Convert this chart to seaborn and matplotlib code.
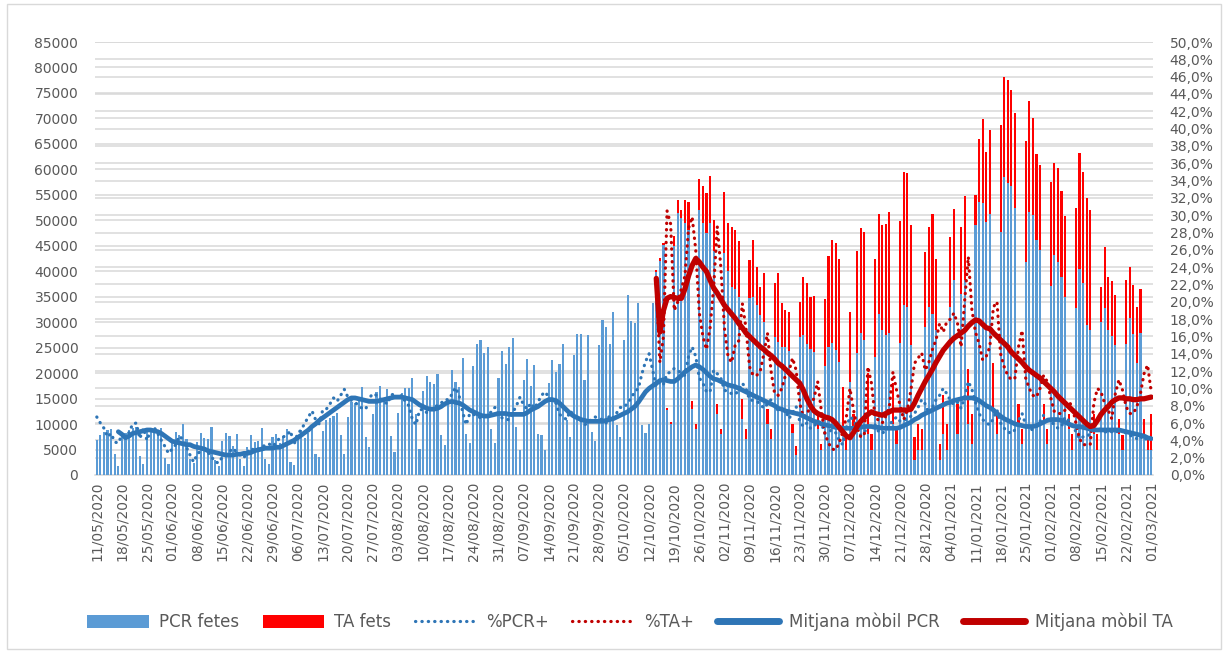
import numpy as np
import pandas as pd
import seaborn as sns
import matplotlib.pyplot as plt
from matplotlib.patches import Patch, Rectangle
from matplotlib.lines import Line2D
from matplotlib.ticker import FuncFormatter, MultipleLocator

nan = np.nan

# one category per day, 11/05/2020 .. 01/03/2021
dates = pd.date_range("2020-05-11", "2021-03-01", freq="D")

# PCR fetes (thousands), one row per week (Mon..Sun)
pcr_k = [
    6.9, 7.9, 8.5, 8.8, 9.0, 4.1, 1.8,
    8.2, 8.2, 8.8, 9.2, 9.5, 3.7, 2.1,
    9.0, 8.8, 8.5, 8.2, 9.3, 3.4, 2.2,
    7.0, 8.4, 7.8, 10.0, 7.0, 3.2, 2.3,
    6.5, 8.3, 7.2, 7.0, 9.5, 2.9, 1.8,
    6.7, 8.3, 7.6, 5.6, 8.0, 3.1, 1.8,
    5.5, 7.8, 6.5, 6.7, 9.2, 3.1, 2.1,
    7.5, 8.0, 6.2, 7.7, 9.0, 2.6, 2.0,
    7.5, 8.8, 7.2, 8.2, 9.0, 4.2, 3.5,
    8.6, 10.8, 11.1, 11.6, 12.1, 7.8, 4.1,
    11.3, 14.4, 14.2, 14.6, 17.3, 7.5, 5.4,
    11.9, 16.2, 17.5, 14.8, 16.8, 7.7, 4.5,
    12.1, 16.0, 17.0, 17.0, 19.0, 12.0, 5.2,
    16.4, 19.4, 18.3, 17.8, 19.8, 7.8, 5.8,
    14.8, 20.6, 18.3, 17.3, 23.0, 8.0, 6.2,
    21.4, 25.8, 26.5, 24.0, 25.2, 9.0, 6.2,
    19.1, 24.4, 21.8, 25.2, 26.8, 9.5, 5.0,
    18.6, 22.7, 17.5, 21.6, 8.0, 7.8, 4.9,
    18.0, 22.6, 20.3, 21.8, 25.8, 10.8, 7.4,
    23.5, 27.7, 27.6, 18.6, 27.5, 8.5, 6.7,
    25.5, 30.4, 29.1, 25.8, 32.0, 9.8, 7.4,
    26.5, 35.3, 30.3, 29.9, 33.8, 9.8, 8.2,
    10.0, 33.7, 39.9, 42.0, 45.1, 12.8, 10.0,
    45.0, 51.4, 50.5, 49.5, 48.0, 13.0, 9.0,
    52.1, 49.4, 47.5, 49.5, 44.0, 12.0, 8.0,
    43.5, 40.0, 36.9, 36.5, 35.0, 11.0, 7.0,
    34.7, 35.0, 33.4, 31.4, 30.1, 10.0, 7.0,
    27.1, 26.2, 25.2, 25.2, 24.4, 8.2, 3.9,
    27.0, 27.5, 25.8, 24.7, 24.2, 9.0, 5.0,
    21.3, 25.2, 26.0, 24.5, 22.2, 9.0, 5.0,
    18.3, 9.0, 24.0, 27.8, 26.5, 8.0, 5.0,
    23.2, 31.7, 28.4, 27.5, 27.9, 10.0, 6.0,
    26.0, 33.4, 33.0, 25.5, 3.0, 5.0, 5.0,
    29.1, 33.0, 31.7, 28.4, 3.0, 8.0, 5.0,
    33.0, 38.3, 8.0, 35.6, 38.3, 10.0, 6.0,
    49.0, 53.6, 53.4, 49.7, 51.2, 13.0, 8.0,
    47.7, 58.5, 57.4, 56.7, 52.5, 10.0, 6.0,
    41.9, 51.7, 51.0, 46.1, 44.1, 10.0, 6.0,
    37.1, 43.2, 41.9, 38.9, 34.9, 9.0, 5.0,
    32.7, 40.4, 37.7, 29.4, 28.4, 8.0, 5.0,
    30.0, 32.7, 28.4, 27.3, 25.5, 8.0, 5.0,
    25.7, 30.9, 27.7, 22.0, 27.9, 8.0, 5.0,
    5.0,
]

# TA fets (thousands); antigen tests only from mid October
ta_k = [0.0] * 154 + [
    0.0, 0.0, 0.3, 0.6, 0.5, 0.4, 0.5,
    2.0, 2.6, 1.5, 4.5, 5.5, 1.5, 1.0,
    6.1, 7.3, 7.9, 9.2, 6.0, 2.0, 1.0,
    12.1, 9.5, 11.8, 11.6, 11.0, 4.0, 2.0,
    7.5, 11.1, 7.5, 5.5, 9.5, 3.0, 2.0,
    10.5, 13.5, 8.6, 7.2, 7.6, 1.9, 1.7,
    7.0, 11.4, 11.8, 10.3, 11.0, 3.1, 1.0,
    13.2, 17.8, 20.1, 21.0, 20.3, 8.3, 3.0,
    13.7, 3.0, 19.9, 20.6, 21.2, 12.0, 3.0,
    19.3, 19.6, 20.6, 21.7, 23.8, 8.0, 3.0,
    23.9, 26.1, 26.2, 23.5, 4.5, 5.0, 4.0,
    14.7, 15.6, 19.6, 14.1, 3.0, 7.7, 5.0,
    13.8, 14.0, 6.0, 13.1, 16.4, 10.9, 6.0,
    6.0, 12.4, 16.4, 13.7, 16.5, 9.0, 4.0,
    21.0, 19.7, 20.1, 18.8, 18.6, 4.0, 3.0,
    23.6, 21.7, 19.0, 16.9, 16.7, 4.0, 3.0,
    20.5, 18.1, 18.3, 16.8, 15.9, 3.0, 3.0,
    19.8, 22.8, 21.8, 25.0, 23.6, 4.0, 3.0,
    7.0, 12.0, 10.4, 10.8, 9.8, 3.0, 2.8,
    12.6, 10.0, 9.5, 11.0, 8.7, 3.0, 2.0,
    7.0,
]

# %PCR+ (daily positivity, %)
pct_pcr = [
    6.7, 6.0, 5.4, 4.4, 4.8, 3.8, 3.7,
    4.6, 4.5, 4.9, 5.9, 6.0, 4.2, 5.4,
    4.0, 5.2, 5.5, 4.8, 4.0, 3.3, 2.5,
    3.0, 3.5, 4.5, 4.1, 3.2, 2.3, 1.5,
    2.4, 2.8, 3.0, 2.6, 2.1, 1.5, 1.4,
    2.1, 2.4, 2.7, 3.1, 2.6, 2.3, 2.0,
    2.6, 3.1, 2.8, 3.0, 3.3, 3.4, 3.6,
    3.3, 3.7, 4.3, 4.4, 4.6, 5.1, 3.5,
    4.8, 5.2, 6.0, 6.7, 7.4, 6.4, 5.9,
    7.5, 7.6, 8.2, 8.9, 8.5, 9.2, 9.9,
    9.0, 8.6, 8.4, 8.0, 7.7, 7.6, 8.9,
    9.4, 9.2, 8.8, 8.5, 8.2, 9.2, 9.4,
    8.8, 9.2, 8.5, 8.0, 6.4, 5.8, 7.5,
    7.6, 7.2, 7.4, 7.9, 8.0, 8.3, 8.7,
    8.7, 9.3, 10.1, 9.2, 7.3, 5.8, 7.1,
    7.0, 6.8, 6.6, 6.7, 6.9, 7.3, 7.8,
    7.0, 6.6, 6.4, 6.4, 7.2, 8.0, 9.0,
    8.1, 7.6, 8.3, 7.7, 8.4, 9.2, 9.6,
    9.0, 8.6, 8.3, 7.0, 6.7, 6.4, 7.4,
    6.9, 6.5, 6.3, 5.8, 6.0, 6.5, 6.7,
    6.5, 6.4, 6.0, 6.9, 6.6, 7.2, 7.8,
    7.8, 8.3, 8.9, 9.6, 10.0, 11.7, 13.1,
    14.0, 12.1, 10.2, 10.8, 10.5, 11.7, 11.9,
    12.3, 12.1, 11.7, 11.5, 13.7, 14.8, 13.7,
    11.2, 10.6, 9.6, 9.6, 12.1, 11.7, 11.2,
    9.8, 9.6, 9.4, 9.3, 9.8, 10.6, 10.0,
    8.7, 8.6, 8.5, 8.2, 7.7, 8.2, 8.7,
    7.8, 7.5, 7.5, 7.5, 6.5, 7.2, 7.9,
    6.2, 5.6, 6.0, 5.4, 5.6, 6.2, 6.0,
    4.8, 5.0, 5.2, 4.9, 4.0, 3.5, 5.5,
    6.7, 6.4, 5.5, 4.6, 5.0, 5.4, 5.8,
    5.8, 5.0, 4.8, 5.2, 5.8, 6.3, 6.7,
    6.2, 6.4, 6.4, 6.8, 7.1, 7.8, 8.7,
    8.2, 7.1, 7.8, 8.7, 9.2, 10.0, 9.4,
    8.6, 8.1, 8.4, 7.7, 9.0, 10.8, 9.9,
    8.4, 7.1, 6.4, 6.0, 5.8, 6.5, 7.5,
    6.0, 5.4, 5.0, 4.8, 5.2, 6.3, 7.1,
    5.8, 5.4, 5.2, 5.6, 6.2, 6.9, 6.5,
    6.2, 5.8, 5.4, 5.6, 6.7, 6.3, 5.8,
    5.0, 4.2, 4.4, 4.4, 4.8, 5.8, 5.4,
    5.2, 5.0, 4.9, 5.0, 5.2, 4.8, 5.3,
    4.8, 4.6, 4.4, 4.2, 4.5, 4.0, 4.3,
    4.2,
]

# %TA+ (daily positivity of antigen tests, %)
pct_ta = [nan] * 154 + [
    nan, nan, 22.0, 13.0, 16.0, 30.5, 29.0,
    19.0, 20.0, 21.5, 23.0, 28.5, 29.8, 26.0,
    18.7, 16.0, 14.5, 17.0, 21.7, 28.7, 24.0,
    17.0, 13.7, 13.0, 15.0, 15.5, 19.8, 17.0,
    12.5, 11.5, 11.5, 12.0, 14.0, 16.4, 12.0,
    9.4, 9.2, 10.0, 11.5, 12.0, 13.5, 12.1,
    8.3, 6.7, 7.0, 8.0, 8.9, 10.8, 7.5,
    4.8, 3.7, 3.0, 2.9, 3.7, 5.0, 6.7,
    10.0, 7.5, 5.5, 4.4, 4.6, 12.5, 10.6,
    6.7, 6.3, 6.0, 6.8, 7.9, 11.9, 9.8,
    8.0, 6.4, 7.5, 9.8, 12.9, 13.5, 14.1,
    12.1, 13.0, 14.5, 15.6, 17.5, 16.5, 17.7,
    18.0, 18.7, 17.5, 14.8, 20.2, 25.2, 19.1,
    16.5, 15.2, 13.3, 13.7, 14.8, 19.4, 20.0,
    14.0, 12.5, 11.5, 11.0, 11.2, 14.8, 16.7,
    11.2, 10.0, 9.2, 9.0, 10.0, 11.5, 10.8,
    8.9, 7.3, 7.1, 7.1, 7.5, 8.5, 7.9,
    6.0, 4.2, 3.5, 3.5, 3.5, 8.3, 10.0,
    9.6, 8.3, 7.5, 6.5, 9.4, 11.0, 9.8,
    7.9, 7.1, 7.1, 7.9, 9.4, 11.7, 12.7,
    9.6,
]

# Mitjana mòbil PCR (%)
ma_pcr = [
    nan, nan, nan, nan, nan, nan, 5.0,
    4.7, 4.3, 4.5, 4.8, 4.9, 5.0, 5.1,
    5.2, 5.2, 5.1, 5.0, 4.8, 4.5, 4.2,
    3.9, 3.8, 3.7, 3.6, 3.5, 3.5, 3.3,
    3.2, 3.1, 3.0, 2.8, 2.7, 2.6, 2.5,
    2.4, 2.3, 2.3, 2.3, 2.4, 2.4, 2.5,
    2.5, 2.6, 2.8, 2.9, 3.0, 3.1, 3.1,
    3.1, 3.2, 3.2, 3.4, 3.6, 3.8, 4.0,
    4.3, 4.6, 4.9, 5.2, 5.6, 5.9, 6.3,
    6.6, 6.9, 7.2, 7.5, 7.8, 8.1, 8.4,
    8.7, 8.9, 8.9, 8.8, 8.7, 8.6, 8.5,
    8.5, 8.5, 8.6, 8.7, 8.8, 8.9, 9.0,
    9.0, 9.0, 8.9, 8.8, 8.7, 8.4, 8.1,
    7.9, 7.7, 7.6, 7.6, 7.7, 7.9, 8.2,
    8.4, 8.5, 8.4, 8.3, 8.1, 7.8, 7.5,
    7.3, 7.1, 6.9, 6.8, 6.8, 6.9, 7.0,
    7.1, 7.1, 7.1, 7.0, 7.0, 7.0, 7.0,
    7.0, 7.2, 7.5, 7.7, 7.9, 8.2, 8.5,
    8.7, 8.7, 8.6, 8.3, 7.9, 7.5, 7.1,
    6.8, 6.6, 6.4, 6.3, 6.2, 6.2, 6.2,
    6.2, 6.2, 6.3, 6.4, 6.5, 6.7, 6.9,
    7.1, 7.3, 7.6, 7.9, 8.4, 9.0, 9.6,
    10.0, 10.3, 10.6, 10.9, 11.0, 10.9, 10.8,
    10.8, 11.1, 11.5, 11.9, 12.2, 12.5, 12.7,
    12.5, 12.2, 11.8, 11.4, 11.1, 11.0, 10.8,
    10.6, 10.4, 10.3, 10.2, 10.0, 9.8, 9.6,
    9.4, 9.2, 9.0, 8.8, 8.6, 8.4, 8.2,
    8.0, 7.7, 7.6, 7.4, 7.3, 7.2, 7.1,
    7.0, 6.8, 6.6, 6.4, 6.2, 6.1, 5.9,
    5.8, 5.7, 5.6, 5.5, 5.5, 5.4, 5.4,
    5.4, 5.4, 5.5, 5.5, 5.6, 5.6, 5.6,
    5.5, 5.5, 5.4, 5.4, 5.4, 5.4, 5.4,
    5.5, 5.7, 5.9, 6.1, 6.4, 6.6, 6.9,
    7.1, 7.3, 7.5, 7.7, 7.9, 8.1, 8.3,
    8.4, 8.6, 8.7, 8.8, 8.9, 8.9, 8.9,
    8.8, 8.6, 8.3, 8.0, 7.8, 7.5, 7.1,
    6.8, 6.5, 6.3, 6.1, 5.9, 5.8, 5.7,
    5.6, 5.6, 5.6, 5.7, 5.9, 6.1, 6.3,
    6.4, 6.4, 6.4, 6.3, 6.1, 5.9, 5.7,
    5.6, 5.6, 5.5, 5.4, 5.3, 5.2, 5.2,
    5.2, 5.2, 5.2, 5.2, 5.2, 5.2, 5.1,
    5.0, 4.9, 4.8, 4.7, 4.6, 4.5, 4.3,
    4.2,
]

# Mitjana mòbil TA (%)
ma_ta = [nan] * 154 + [
    nan, nan, 22.7, 16.5, 19.0, 20.4, 20.6,
    20.5, 20.4, 20.4, 21.5, 23.0, 24.2, 25.0,
    24.6, 24.0, 23.5, 22.5, 21.6, 21.0, 20.3,
    19.6, 19.1, 18.6, 18.1, 17.5, 17.0, 16.4,
    16.0, 15.6, 15.2, 14.8, 14.5, 14.1, 13.8,
    13.4, 12.9, 12.6, 12.2, 11.8, 11.4, 11.0,
    10.6, 9.8, 8.8, 8.0, 7.4, 7.1, 6.9,
    6.7, 6.6, 6.4, 6.0, 5.5, 5.0, 4.5,
    4.3, 4.9, 5.6, 6.2, 6.6, 7.0, 7.3,
    7.1, 7.0, 6.9, 7.1, 7.3, 7.5, 7.5,
    7.5, 7.5, 7.5, 7.6, 8.3, 9.2, 10.0,
    10.8, 11.5, 12.2, 13.0, 13.7, 14.4, 14.9,
    15.4, 15.8, 16.1, 16.4, 16.7, 17.2, 17.6,
    17.9, 17.8, 17.4, 17.0, 16.9, 16.4, 16.0,
    15.6, 15.2, 14.8, 14.2, 13.8, 13.4, 13.0,
    12.5, 12.1, 11.8, 11.5, 11.2, 10.8, 10.4,
    10.0, 9.6, 9.1, 8.7, 8.3, 7.9, 7.5,
    7.1, 6.7, 6.3, 5.9, 5.6, 5.7, 6.3,
    7.0, 7.5, 7.9, 8.4, 8.7, 8.9, 8.9,
    8.8, 8.8, 8.7, 8.7, 8.8, 8.8, 8.9,
    9.0,
]

for arr in (pcr_k, ta_k, pct_pcr, pct_ta, ma_pcr, ma_ta):
    assert len(arr) == len(dates), len(arr)

df = pd.DataFrame({
    "dia": np.arange(len(dates)),
    "pcr": np.array(pcr_k) * 1000,
    "ta": np.array(ta_k) * 1000,
    "pct_pcr": pct_pcr,
    "pct_ta": pct_ta,
    "ma_pcr": ma_pcr,
    "ma_ta": ma_ta,
})
df["total"] = df["pcr"] + df["ta"]

C_PCR = "#5B9BD5"
C_TA = "#FF0000"
C_BLUE = "#2E75B6"
C_RED = "#C00000"
GRID = "#D9D9D9"
TXT = "#595959"
DOTS = (0, (0.1, 1.9))

sns.set_theme(style="white")
plt.rcParams["font.family"] = ["DejaVu Sans"]

fig = plt.figure(figsize=(12.28, 6.53), dpi=100)
ax = fig.add_axes([95 / 1228, 178 / 653, 1058 / 1228, 433 / 653])

# gridlines of both value axes, behind the bars
for v in range(0, 85001, 5000):
    ax.axhline(v, color=GRID, lw=1.1, zorder=0)
for p in range(0, 51, 2):
    ax.axhline(p * 85000 / 50, color=GRID, lw=1.1, zorder=0)

# stacked bars: total (red) with PCR (blue) drawn over it
sns.barplot(data=df, x="dia", y="total", color=C_TA, saturation=1, width=0.6,
            errorbar=None, linewidth=0, ax=ax, zorder=2)
sns.barplot(data=df, x="dia", y="pcr", color=C_PCR, saturation=1, width=0.6,
            errorbar=None, linewidth=0, ax=ax, zorder=3)

ax2 = ax.twinx()
sns.lineplot(data=df, x="dia", y="pct_pcr", ax=ax2, color=C_BLUE, lw=2.3,
             linestyle=DOTS, dash_capstyle="round", estimator=None)
sns.lineplot(data=df, x="dia", y="pct_ta", ax=ax2, color=C_RED, lw=2.3,
             linestyle=DOTS, dash_capstyle="round", estimator=None)
sns.lineplot(data=df, x="dia", y="ma_pcr", ax=ax2, color=C_BLUE, lw=3.4,
             solid_capstyle="round", estimator=None)
sns.lineplot(data=df, x="dia", y="ma_ta", ax=ax2, color=C_RED, lw=3.8,
             solid_capstyle="round", estimator=None)

ax.set_xlim(-0.5, len(dates) - 0.5)
ax.set_ylim(0, 85000)
ax2.set_ylim(0, 50)
ax.grid(False)
ax2.grid(False)

tick_pos = list(range(0, len(dates), 7))
ax.set_xticks(tick_pos)
ax.set_xticklabels(dates[::7].strftime("%d/%m/%Y"), rotation=90)
ax.yaxis.set_major_locator(MultipleLocator(5000))
ax.yaxis.set_major_formatter(FuncFormatter(lambda v, _: f"{v:.0f}"))
ax2.yaxis.set_major_locator(MultipleLocator(2))
ax2.yaxis.set_major_formatter(FuncFormatter(lambda v, _: f"{v:.1f}%".replace(".", ",")))

ax.tick_params(axis="x", length=0, pad=5, labelsize=10, labelcolor=TXT)
ax.tick_params(axis="y", length=0, pad=12, labelsize=10, labelcolor=TXT)
ax2.tick_params(axis="y", length=0, pad=12, labelsize=10, labelcolor=TXT)
ax.set_xlabel("")
ax.set_ylabel("")
ax2.set_xlabel("")
ax2.set_ylabel("")
for s in ["top", "left", "right"]:
    ax.spines[s].set_visible(False)
ax.spines["bottom"].set_color(GRID)
ax.spines["bottom"].set_linewidth(1.1)
for s in ax2.spines.values():
    s.set_visible(False)

handles = [
    Patch(facecolor=C_PCR, edgecolor="none"),
    Patch(facecolor=C_TA, edgecolor="none"),
    Line2D([], [], color=C_BLUE, lw=2.3, linestyle=DOTS, dash_capstyle="round"),
    Line2D([], [], color=C_RED, lw=2.3, linestyle=DOTS, dash_capstyle="round"),
    Line2D([], [], color=C_BLUE, lw=5, solid_capstyle="round"),
    Line2D([], [], color=C_RED, lw=5, solid_capstyle="round"),
]
labels = ["PCR fetes", "TA fets", "%PCR+", "%TA+", "Mitjana mòbil PCR", "Mitjana mòbil TA"]
fig.legend(handles, labels, loc="center", bbox_to_anchor=(0.513, 0.0475), ncol=6,
           frameon=False, fontsize=12, handlelength=3.7, handleheight=0.85,
           handletextpad=0.6, columnspacing=1.4, labelcolor=TXT)

# chart area border
fig.patches.append(Rectangle((7 / 1228, 4 / 653), 1214 / 1228, 645 / 653,
                             transform=fig.transFigure, fill=False,
                             ec=GRID, lw=1))

fig.savefig("out.png", dpi=100)
